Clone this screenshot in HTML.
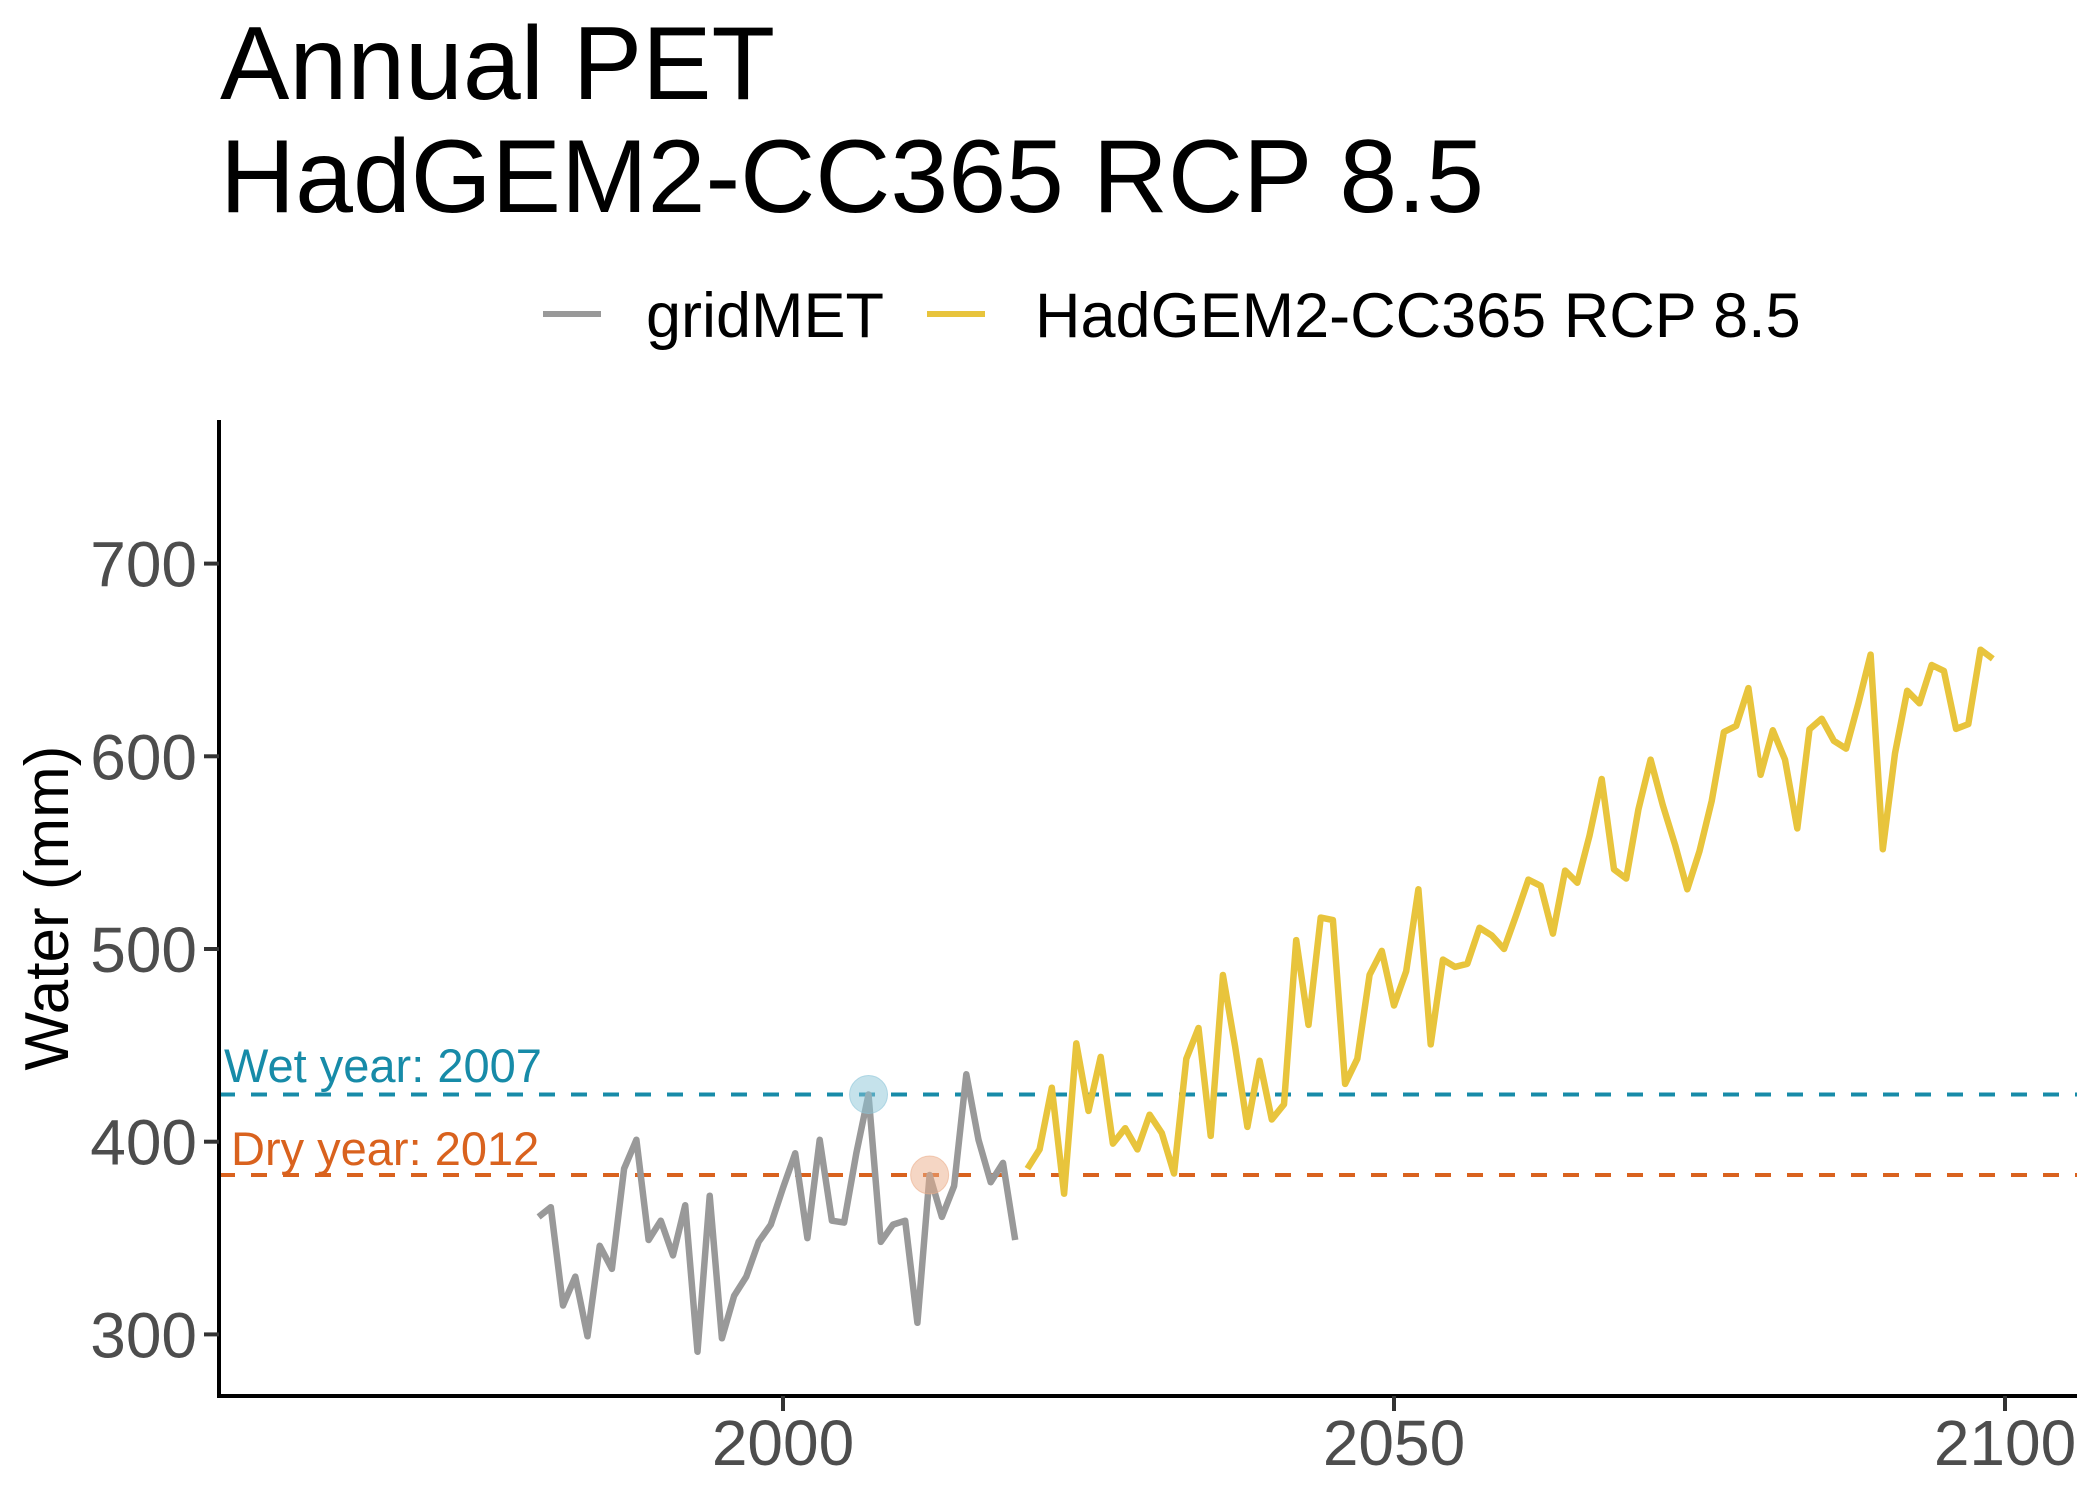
<!DOCTYPE html>
<html><head><meta charset="utf-8"><style>
html,body{margin:0;padding:0;background:#fff;}
svg{display:block;font-family:"Liberation Sans",Arial,sans-serif;}
</style></head><body>
<svg id="chart" width="2100" height="1499" viewBox="0 0 2100 1499" xmlns="http://www.w3.org/2000/svg">
<rect width="2100" height="1499" fill="#fff"/>
<text x="220" y="99" font-size="104" fill="#000">Annual PET</text>
<text x="220" y="212" font-size="104" fill="#000">HadGEM2-CC365 RCP 8.5</text>
<g>
<line x1="543" y1="314" x2="601" y2="314" stroke="#999999" stroke-width="6"/>
<text x="646" y="337" font-size="63" fill="#000">gridMET</text>
<line x1="927" y1="314" x2="985" y2="314" stroke="#E8C43C" stroke-width="6"/>
<text x="1035" y="337" font-size="63" fill="#000">HadGEM2-CC365 RCP 8.5</text>
</g>
<text transform="translate(68,908) rotate(-90)" text-anchor="middle" font-size="62" fill="#000">Water (mm)</text>
<g id="plot"></g>
</svg>
<script>
const histYears = [1980,1981,1982,1983,1984,1985,1986,1987,1988,1989,1990,1991,1992,1993,1994,1995,1996,1997,1998,1999,2000,2001,2002,2003,2004,2005,2006,2007,2008,2009,2010,2011,2012,2013,2014,2015,2016,2017,2018,2019];
const histValues = [361,366,315,330,299,346,334,386,401,349,359,341,367,291,372,298,320,330,348,357,376,394,350,401,359,358,394,424.5,348,357,359,306,382.7,361,377,435,401,379,389,349];
const futYears = [];
for (let y = 2020; y <= 2099; y++) futYears.push(y);
const futValues = [386,396,428,373,451,416,444,399,407,396,414,404.5,383.5,443,459,403,486.5,449.5,407.7,442,411.5,419.4,504.6,460.6,516.3,515,430,443,486.6,499,470.7,488.5,531,450.5,494.5,490.7,492.3,511,507,500,517.6,536,532.8,508,540.7,534.4,558.8,588.2,541.3,536.6,572.4,598.3,574.6,554,531,550.8,576.8,612.6,615.8,635.4,590.4,613.5,598.3,562.6,614,619.5,608,604,627.5,652.8,551.8,601.5,634,627.5,647.4,644.3,614.2,616.7,655.3,650.6];
const yTicks = [300,400,500,600,700];
const xTicks = [2000,2050,2100];
const wetYear = 2007, wetValue = 424.5;
const dryYear = 2012, dryValue = 382.7;

const NS = "http://www.w3.org/2000/svg";
const plot = document.getElementById('plot');
const X0 = 219, X1 = 2077, Y0 = 420, Y1 = 1396;
const xs = yr => 783 + (yr - 2000) * 12.22;
const ys = v => 1334.4 - (v - 300) * 1.927;
function mk(tag, attrs, parent) {
  const e = document.createElementNS(NS, tag);
  for (const k in attrs) e.setAttribute(k, attrs[k]);
  (parent || plot).appendChild(e);
  return e;
}
let e;
e = mk('line', {x1: X0, x2: X1, y1: ys(wetValue), y2: ys(wetValue), stroke: '#178BA8', 'stroke-width': 4, 'stroke-dasharray': '16 16'});


e = mk('line', {x1: X0, x2: X1, y1: ys(dryValue), y2: ys(dryValue), stroke: '#D9621E', 'stroke-width': 4, 'stroke-dasharray': '16 16'});


e = mk('text', {x: 224, y: 1082, 'font-size': 47, fill: '#178BA8'});
e.textContent = 'Wet year: ' + wetYear;


e = mk('text', {x: 231, y: 1165, 'font-size': 47, fill: '#D9621E'});
e.textContent = 'Dry year: ' + dryYear;


const hp = histYears.map((y, i) => xs(y).toFixed(1) + ',' + ys(histValues[i]).toFixed(1)).join(' ');
e = mk('polyline', {points: hp, fill: 'none', stroke: '#999999', 'stroke-width': 6.5, 'stroke-linejoin': 'round'});


const fp = futYears.map((y, i) => xs(y).toFixed(1) + ',' + ys(futValues[i]).toFixed(1)).join(' ');
e = mk('polyline', {points: fp, fill: 'none', stroke: '#E8C43C', 'stroke-width': 6.5, 'stroke-linejoin': 'round'});


e = mk('circle', {cx: xs(wetYear), cy: ys(wetValue), r: 19, fill: '#8CC5D8', 'fill-opacity': 0.5, stroke: '#8CC5D8', 'stroke-opacity': 0.6});


e = mk('circle', {cx: xs(dryYear), cy: ys(dryValue), r: 19, fill: '#EBAE8A', 'fill-opacity': 0.5, stroke: '#EBAE8A', 'stroke-opacity': 0.6});


e = mk('line', {x1: X0, x2: X0, y1: Y0, y2: Y1 + 2, stroke: '#000', 'stroke-width': 4});


e = mk('line', {x1: X0 - 2, x2: X1, y1: Y1, y2: Y1, stroke: '#000', 'stroke-width': 4});


yTicks.forEach(t => {
  const y = ys(t);
  let m = mk('line', {x1: X0 - 15, x2: X0, y1: y, y2: y, stroke: '#333', 'stroke-width': 4});
  
  
  let l = mk('text', {x: 197, y: y + 23, 'text-anchor': 'end', 'font-size': 64, fill: '#4D4D4D'});
  l.textContent = t;
  
  
});
xTicks.forEach(t => {
  const x = xs(t);
  let m = mk('line', {x1: x, x2: x, y1: Y1, y2: Y1 + 15, stroke: '#333', 'stroke-width': 4});
  
  
  let l = mk('text', {x: x, y: 1465, 'text-anchor': 'middle', 'font-size': 64, fill: '#4D4D4D'});
  l.textContent = t;
  
  
});
</script>
</body></html>
